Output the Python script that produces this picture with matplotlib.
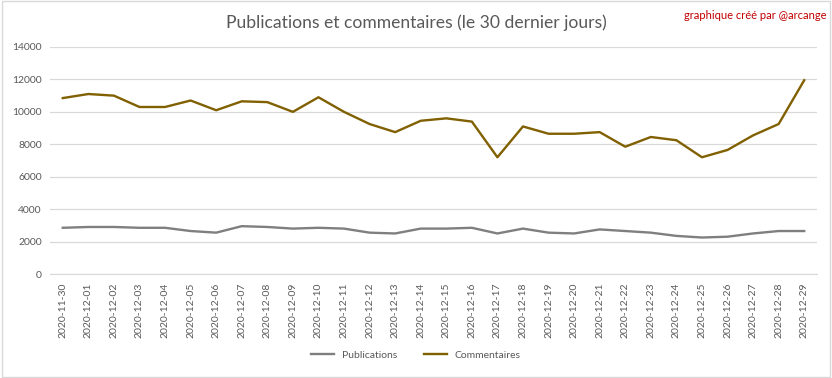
import numpy as np
import matplotlib.pyplot as plt

dates = ['2020-11-30', '2020-12-01', '2020-12-02', '2020-12-03', '2020-12-04',
         '2020-12-05', '2020-12-06', '2020-12-07', '2020-12-08', '2020-12-09',
         '2020-12-10', '2020-12-11', '2020-12-12', '2020-12-13', '2020-12-14',
         '2020-12-15', '2020-12-16', '2020-12-17', '2020-12-18', '2020-12-19',
         '2020-12-20', '2020-12-21', '2020-12-22', '2020-12-23', '2020-12-24',
         '2020-12-25', '2020-12-26', '2020-12-27', '2020-12-28', '2020-12-29']
publications = [2850, 2900, 2900, 2850, 2850, 2650, 2550, 2950, 2900, 2800,
                2850, 2800, 2550, 2500, 2800, 2800, 2850, 2500, 2800, 2550,
                2500, 2750, 2650, 2550, 2350, 2250, 2300, 2500, 2650, 2650]
commentaires = [10850, 11100, 11000, 10300, 10300, 10700, 10100, 10650, 10600, 10000,
                10900, 10000, 9250, 8750, 9450, 9600, 9400, 7200, 9100, 8650,
                8650, 8750, 7850, 8450, 8250, 7200, 7650, 8550, 9250, 11950]
yticks = [0, 2000, 4000, 6000, 8000, 10000, 12000, 14000]

plt.rcParams['font.family'] = ['Lato', 'DejaVu Sans']
txt = '#595959'

fig = plt.figure(figsize=(8.32, 3.78), dpi=100)
ax = fig.add_axes([50/832, 104/378, 767/832, 227/378])

x = np.arange(len(dates))
ax.plot(x, publications, color='#7f7f7f', lw=1.7, label='Publications')
ax.plot(x, commentaires, color='#806000', lw=1.7, label='Commentaires')

ax.set_xlim(-0.5, len(dates) - 0.5)
ax.set_ylim(0, 14000)
ax.set_yticks(yticks)
ax.set_yticklabels([str(v) for v in yticks], fontsize=7.5, color=txt)
ax.set_xticks(x)
ax.set_xticklabels(dates, rotation=90, fontsize=7.5, color=txt)
ax.tick_params(length=0, pad=6)
ax.grid(axis='y', color='#d9d9d9', lw=0.9)
ax.set_axisbelow(True)
for s in ['top', 'right', 'left']:
    ax.spines[s].set_visible(False)
ax.spines['bottom'].set_color('#d9d9d9')

fig.text(0.5, 0.94, 'Publications et commentaires (le 30 dernier jours)',
         ha='center', va='center', fontsize=12.6, color=txt)
fig.text(0.993, 0.96, 'graphique créé par @arcange', ha='right', va='center',
         fontsize=8, color='#c00000')
fig.legend(loc='center', bbox_to_anchor=(0.5, 0.06), ncol=2, frameon=False,
           fontsize=7.5, labelcolor=txt, handlelength=2.2, columnspacing=2.5)

fig.patches.append(plt.Rectangle((0.002, 0.003), 0.996, 0.994, transform=fig.transFigure,
                                 fill=False, edgecolor='#d9d9d9', lw=1))

fig.savefig('out.png', dpi=100)
